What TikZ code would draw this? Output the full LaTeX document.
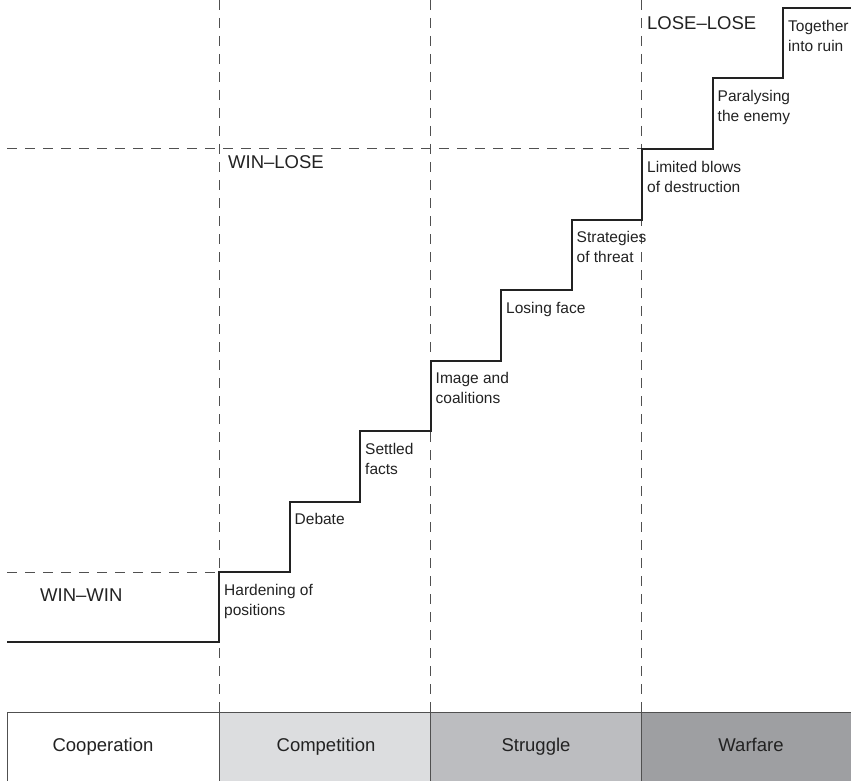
\documentclass[tikz,border=0pt]{standalone}
\usepackage{fontspec}
\setmainfont{Liberation Sans}
\definecolor{inkgray}{RGB}{34,34,34}
\definecolor{guidegray}{RGB}{80,80,80}
\definecolor{compgray}{RGB}{220,221,223}
\definecolor{strugray}{RGB}{188,189,192}
\definecolor{wargray}{RGB}{158,159,162}

\begin{document}
\begin{tikzpicture}[x=1pt,y=-1pt,
  guide/.style={guidegray,line width=0.9pt,dash pattern=on 10pt off 8pt},
  stair/.style={inkgray,line width=2pt},
  steplabel/.style={inkgray,anchor=north west,align=left,inner sep=0pt,
    font=\fontsize{15.5}{20}\selectfont},
  zonelabel/.style={inkgray,anchor=base west,inner sep=0pt,
    font=\fontsize{18.5}{22}\selectfont},
  zonetext/.style={inkgray,anchor=base,inner sep=0pt,
    font=\fontsize{18.5}{22}\selectfont}]
  \useasboundingbox (0,0) rectangle (851,781);
  % bands at the bottom
  \foreach \xa/\xb/\xm/\col/\name in {7/219/103/white/Cooperation,219/430/326/compgray/Competition,
      430/641/536/strugray/Struggle,641/860/751/wargray/Warfare} {
    \draw[guidegray,line width=0.9pt,fill=\col](\xa,712)rectangle(\xb,800);
    \node[zonetext](\name) at (\xm,751) {\name};
  }
  % dashed guides
  \foreach \x in {219,430,641}
    \draw[guide](\x,0)--(\x,712);
  \draw[guide](7,572)--(219,572);
  \draw[guide](7,148)--(641,148);
  % the staircase
  \draw[stair](7,642)-|(219,572)
    \foreach \i in {1,...,8} { -|({219+70.5*\i},{572-70.5*\i}) } --(860,8);
  \foreach \i/\txt in {0/{Hardening of\\positions},1/Debate,2/{Settled\\facts},
      3/{Image and\\coalitions},4/{Losing face},5/{Strategies\\of threat},
      6/{Limited blows\\of destruction},7/{Paralysing\\the enemy},8/{Together\\into ruin}}
    \node[steplabel](step\i) at ({219+70.5*\i+5},{572-70.5*\i+12}) {\txt};
  % outcomes
  \node[zonelabel](winwin) at (40,601) {WIN--WIN};
  \node[zonelabel](winlose) at (228,168) {WIN--LOSE};
  \node[zonelabel](loselose) at (647,30) {LOSE--LOSE};
\end{tikzpicture}
\end{document}
